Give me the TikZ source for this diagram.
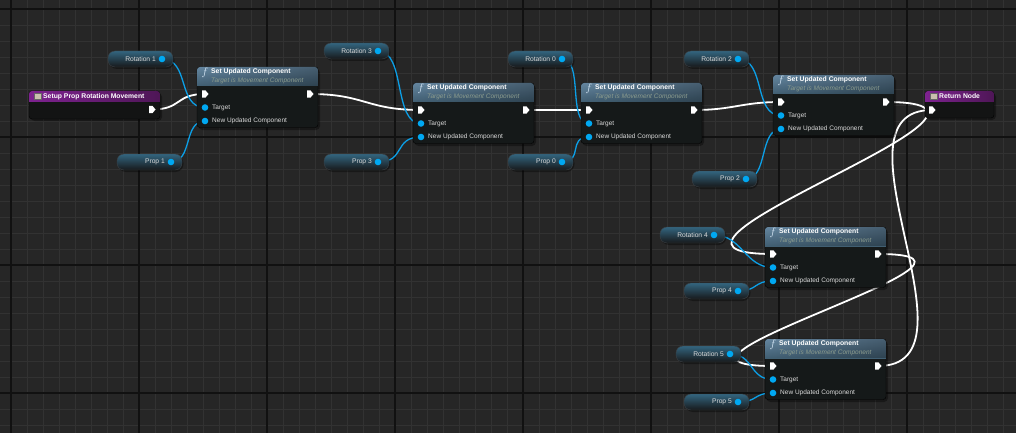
\documentclass[tikz,border=0pt]{standalone}
\usepackage{fontspec}
\setmainfont{Liberation Sans}
\usepackage{xcolor}
\usetikzlibrary{positioning, backgrounds, fadings}

\definecolor{graphbg}{HTML}{262626}
\definecolor{gridminor}{HTML}{323232}
\definecolor{gridmajor}{HTML}{111111}
\definecolor{setbody}{HTML}{151919}
\definecolor{hdrtop}{HTML}{6586A0}
\definecolor{hdrbot}{HTML}{2C4858}
\definecolor{subtext}{HTML}{8C9C8E}
\definecolor{pintext}{HTML}{DADADA}
\definecolor{pinblue}{HTML}{00A8F2}
\definecolor{wireblue}{HTML}{0C9FE6}
\definecolor{vartop}{HTML}{33657F}
\definecolor{varbot}{HTML}{17191B}
\definecolor{varedge}{HTML}{3C4247}
\definecolor{evbody}{HTML}{131414}
\definecolor{purpL}{HTML}{7E2290}
\definecolor{purpR}{HTML}{4E1656}
\definecolor{iconbeige}{HTML}{C9BFAE}
\definecolor{ficon}{HTML}{D4E6F4}

\begin{document}
\begin{tikzpicture}[x=1pt, y=-1pt,
    minorgrid/.style={draw=gridminor, line width=0.6pt},
    majorgrid/.style={draw=gridmajor, line width=1.1pt},
    execwire/.style={draw=white, line width=1.8pt},
    datawire/.style={draw=wireblue, line width=1.3pt},
    datapin/.style={circle, fill=pinblue, inner sep=0pt, minimum size=6.6pt},
    pinlabel/.style={font=\fontsize{6.5}{7}\selectfont, text=pintext, anchor=west, inner sep=0pt},
    varlabel/.style={font=\fontsize{6.7}{7}\selectfont, text=pintext, anchor=east, inner sep=0pt},
    settitle/.style={font=\fontsize{6.8}{7}\selectfont\bfseries, text=white, anchor=west, inner sep=0pt},
    setsub/.style={font=\fontsize{6.5}{7}\selectfont\itshape, text=subtext, anchor=west, inner sep=0pt},
    evtitle/.style={font=\fontsize{6.8}{7}\selectfont\bfseries, text=white, anchor=west, inner sep=0pt},
    evicon/.style={rectangle, fill=iconbeige, draw=black!60, inner sep=0pt, minimum size=6.5pt},
    nodeshadow/.style={fill=black, opacity=0.35, rounded corners=4pt},
    execpin/.pic={
        \fill[white] (-3,-3.6) -- (0.5,-3.6) -- (3.5,0) -- (0.5,3.6) -- (-3,3.6) -- cycle;
    },
    setcomp/.pic={
        \fill[nodeshadow] (1.5,2) rectangle (123,63);
        \fill[setbody, draw=black, rounded corners=3pt] (0,0) rectangle (121,60.5);
        \begin{scope}
            \clip (0,0) rectangle (121,19);
            \shade[top color=hdrtop, bottom color=hdrbot, rounded corners=3pt] (0,0) rectangle (121,30);
            \fill[black, opacity=0.3, path fading=west] (0,0) rectangle (121,19);
        \end{scope}
        \node[text=ficon, font=\fontsize{11}{11}\selectfont, inner sep=0pt] at (8,6) {$f$};
        \node[settitle] at (14,4.8) {Set Updated Component};
        \node[setsub] at (14,13.6) {Target is Movement Component};
        \pic at (8,27) {execpin};
        \pic at (113,27) {execpin};
        \coordinate (-in) at (8,27);
        \coordinate (-out) at (113,27);
        \node[datapin] (-tgt) at (8,40.5) {};
        \node[datapin] (-new) at (8,54) {};
        \node[pinlabel] at (15,40.5) {Target};
        \node[pinlabel] at (15,54) {New Updated Component};
    },
    varnode/.pic={
        \fill[nodeshadow, rounded corners=8pt] (1,1.5) rectangle (66.5,18);
        \shade[top color=vartop, bottom color=varbot, draw=varedge, rounded corners=7pt] (0,0) rectangle (65,16);
        \node[varlabel] at (48,8) {#1};
        \node[datapin] (-pin) at (54,8) {};
    },
]
\useasboundingbox (0,0) rectangle (1016,433);

% grid
\begin{scope}[on background layer]
    \fill[graphbg] (0,0) rectangle (1016,433);
    \foreach \gx in {11,27,...,1016} \draw[minorgrid] (\gx,0) -- (\gx,433);
    \foreach \gy in {9,25,...,433} \draw[minorgrid] (0,\gy) -- (1016,\gy);
    \foreach \gx in {11,139,...,1016} \draw[majorgrid] (\gx,0) -- (\gx,433);
    \foreach \gy in {9,137,...,433} \draw[majorgrid] (0,\gy) -- (1016,\gy);
\end{scope}

% event node
\fill[nodeshadow] (30.5,93) rectangle (162,121);
\fill[evbody, draw=black, rounded corners=3pt] (29,91) rectangle (160,119);
\begin{scope}
    \clip (29,91) rectangle (160,101.5);
    \shade[left color=purpL, right color=purpR, rounded corners=3pt] (29,91) rectangle (160,112);
\end{scope}
\node[evicon] (setupicon) at (37.5,96.3) {};
\node[evtitle] (setup) at (43,96.3) {Setup Prop Rotation Movement};
\pic at (152,109.5) {execpin};
\coordinate (setup-out) at (152,109.5);

% return node
\fill[nodeshadow] (926.5,93) rectangle (996,120);
\fill[evbody, draw=black, rounded corners=3pt] (925,91) rectangle (994,118);
\begin{scope}
    \clip (925,91) rectangle (994,101.5);
    \shade[left color=purpL, right color=purpR, rounded corners=3pt] (925,91) rectangle (994,112);
\end{scope}
\node[evicon] (reticon) at (933.5,96.3) {};
\node[evtitle] (ret) at (939,96.3) {Return Node};
\pic at (932,110) {execpin};
\coordinate (ret-in) at (932,110);

% set updated component nodes
\pic (s1) at (197,67) {setcomp};
\pic (s2) at (413,83) {setcomp};
\pic (s3) at (581,83) {setcomp};
\pic (s4) at (773,75) {setcomp};
\pic (s5) at (765,227) {setcomp};
\pic (s6) at (765,339) {setcomp};

% variables
\pic (r1) at (108,51) {varnode=Rotation 1};
\pic (p1) at (117,154) {varnode=Prop 1};
\pic (r3) at (324,43) {varnode=Rotation 3};
\pic (p3) at (324,154) {varnode=Prop 3};
\pic (r0) at (508,51) {varnode=Rotation 0};
\pic (p0) at (508,154) {varnode=Prop 0};
\pic (r2) at (684,51) {varnode=Rotation 2};
\pic (p2) at (692,171) {varnode=Prop 2};
\pic (r4) at (660,227) {varnode=Rotation 4};
\pic (p4) at (684,283) {varnode=Prop 4};
\pic (r5) at (676,346) {varnode=Rotation 5};
\pic (p5) at (684,394) {varnode=Prop 5};

% wires
\begin{scope}[on background layer]
    \draw[execwire] (setup-out) .. controls +(30,0) and +(-30,0) .. (s1-in);
    \draw[execwire] (s1-out) .. controls +(55,0) and +(-55,0) .. (s2-in);
    \draw[execwire] (s2-out) -- (s3-in);
    \draw[execwire] (s3-out) .. controls +(40,0) and +(-40,0) .. (s4-in);
    \draw[execwire] (s4-out) .. controls +(180,0) and +(-180,0) .. (s5-in);
    \draw[execwire] (s5-out) .. controls +(160,0) and +(-160,0) .. (s6-in);
    \draw[execwire] (s6-out) .. controls +(110,0) and +(-110,0) .. (ret-in);

    \draw[datawire] (r1-pin.center) .. controls +(28,0) and +(-28,0) .. (s1-tgt.center);
    \draw[datawire] (p1-pin.center) .. controls +(22,0) and +(-22,0) .. (s1-new.center);
    \draw[datawire] (r3-pin.center) .. controls +(28,0) and +(-28,0) .. (s2-tgt.center);
    \draw[datawire] (p3-pin.center) .. controls +(28,0) and +(-28,0) .. (s2-new.center);
    \draw[datawire] (r0-pin.center) .. controls +(22,0) and +(-22,0) .. (s3-tgt.center);
    \draw[datawire] (p0-pin.center) .. controls +(22,0) and +(-22,0) .. (s3-new.center);
    \draw[datawire] (r2-pin.center) .. controls +(28,0) and +(-28,0) .. (s4-tgt.center);
    \draw[datawire] (p2-pin.center) .. controls +(22,0) and +(-22,0) .. (s4-new.center);
    \draw[datawire] (r4-pin.center) .. controls +(28,0) and +(-28,0) .. (s5-tgt.center);
    \draw[datawire] (p4-pin.center) .. controls +(20,0) and +(-20,0) .. (s5-new.center);
    \draw[datawire] (r5-pin.center) .. controls +(24,0) and +(-24,0) .. (s6-tgt.center);
    \draw[datawire] (p5-pin.center) .. controls +(20,0) and +(-20,0) .. (s6-new.center);
\end{scope}
\end{tikzpicture}
\end{document}
